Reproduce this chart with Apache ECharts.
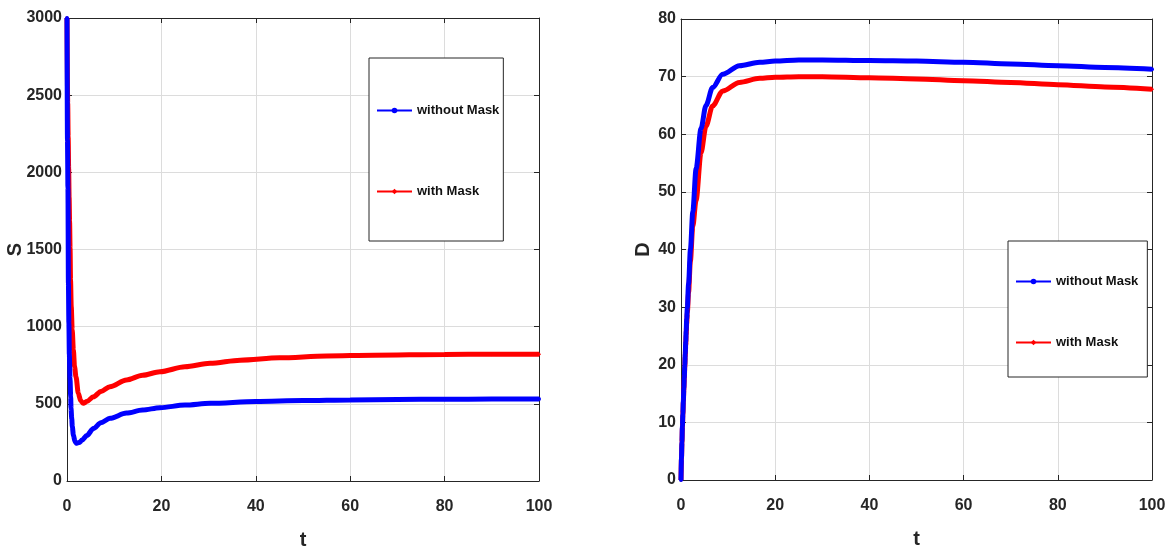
<!DOCTYPE html>
<html lang="en">

<head>
    <meta charset="UTF-8">
    <title>S and D vs t</title>
    <script src="https://cdn.jsdelivr.net/npm/echarts@6/dist/echarts.min.js"></script>
    <style>
        html, body {
            margin: 0;
            padding: 0;
            background-color: #fff;
        }

        #main {
            width: 1166px;
            height: 548px;
        }
    </style>
</head>

<body>
    <div id="main"></div>
</body>

<script>
    // names of the two runs
    let names = ['without Mask', 'with Mask'];

    // left panel: S(t)
    let tSNoMask = [0, 0.1, 0.2, 0.3, 0.4, 0.5, 0.64, 0.78, 0.85, 1.0, 1.13, 1.35, 1.7, 2.05, 2.6, 3.2, 4.2, 5.6, 7.2, 9.1, 12.6, 16, 19.7, 25, 30.3, 40, 50, 60, 70, 80, 90, 100];
    let sNoMask = [3000, 2210, 1900, 1280, 1020, 816, 665, 546, 471, 406, 352, 298, 255, 244, 250, 265, 295, 340, 378, 406, 440, 460, 475, 492, 503, 515, 521, 525, 528, 530, 531, 531];
    let tSMask = [0, 0.15, 0.25, 0.35, 0.45, 0.55, 0.65, 0.75, 0.9, 1.1, 1.35, 1.6, 1.9, 2.4, 2.9, 3.45, 4.2, 5.6, 7.2, 9.1, 12.6, 16, 19.7, 25, 30.3, 36.7, 45, 55, 65, 80, 90, 100];
    let sMask = [3000, 2450, 2230, 2027, 1840, 1680, 1510, 1300, 1130, 980, 849, 740, 676, 568, 520, 503, 515, 546, 580, 611, 655, 685, 708, 740, 763, 783, 798, 810, 815, 820, 822, 822];

    // right panel: D(t)
    let tD = [0, 0.1, 0.2, 0.3, 0.4, 0.5, 0.6, 0.7, 0.8, 0.9, 1.0, 1.1, 1.2, 1.35, 1.6, 2.0, 2.5, 3.2, 4.25, 5.3, 6.7, 8.85, 12.4, 16.7, 20, 25, 30, 40, 50, 60, 70, 80, 90, 100];
    let dNoMask = [0, 3.8, 6.6, 9.4, 11.5, 13.8, 15.9, 17.8, 19.9, 21.9, 23.9, 25.9, 27.9, 30, 34, 40, 46.5, 54, 61, 65, 68.1, 70.4, 71.9, 72.5, 72.7, 72.9, 72.9, 72.8, 72.7, 72.5, 72.2, 71.9, 71.6, 71.3];
    let dMask = [0, 3.6, 6.4, 9.2, 11.3, 13.6, 15.6, 17.5, 19.5, 21.4, 23.3, 25.2, 27.0, 29, 32.5, 38, 44, 48.5, 56.8, 61.4, 64.9, 67.5, 69.0, 69.7, 69.9, 70.0, 70.0, 69.8, 69.6, 69.3, 69.0, 68.6, 68.2, 67.8];

    let xTicks = [0, 20, 40, 60, 80, 100];

    let font = "'Liberation Sans', Arial, sans-serif";
    let ink = '#262626';

    function pairs(ts, vs) {
        let out = [];
        for (let i = 0; i < ts.length && i < vs.length; i++) {
            out.push([ts[i], vs[i]]);
        }
        return out;
    }

    function xAxis(grid, pos) {
        let main = pos === 'bottom';
        return {
            type: 'value',
            gridIndex: grid,
            position: pos,
            min: xTicks[0],
            max: xTicks[xTicks.length - 1],
            interval: 20,
            name: main ? 't' : '',
            nameLocation: 'middle',
            nameGap: 49,
            nameMoveOverlap: false,
            nameTextStyle: { fontFamily: font, fontSize: 20, fontWeight: 'bold', color: ink },
            axisLine: { show: true, onZero: false, lineStyle: { color: ink, width: 1 } },
            axisTick: { show: true, inside: true, length: 5, lineStyle: { color: ink } },
            axisLabel: { show: main, margin: 18, fontFamily: font, fontSize: 16, fontWeight: 'bold', color: ink },
            splitLine: { show: main, lineStyle: { color: '#dcdcdc', width: 1 } }
        };
    }

    function yAxis(grid, pos, max, step, label, gap) {
        let main = pos === 'left';
        return {
            type: 'value',
            gridIndex: grid,
            position: pos,
            min: 0,
            max: max,
            interval: step,
            name: main ? label : '',
            nameLocation: 'middle',
            nameRotate: 90,
            nameGap: gap,
            nameMoveOverlap: false,
            nameTextStyle: { fontFamily: font, fontSize: 20, fontWeight: 'bold', color: ink },
            axisLine: { show: true, onZero: false, lineStyle: { color: ink, width: 1 } },
            axisTick: { show: true, inside: true, length: 5, lineStyle: { color: ink } },
            axisLabel: {
                show: main, margin: 5, fontFamily: font, fontSize: 16, fontWeight: 'bold', color: ink,
                formatter: function (v) { return String(v); }
            },
            splitLine: { show: main, lineStyle: { color: '#dcdcdc', width: 1 } }
        };
    }

    function line(name, grid, data, color, symbol) {
        return {
            type: 'line',
            name: name,
            xAxisIndex: grid * 2,
            yAxisIndex: grid * 2,
            data: data,
            showSymbol: true,
            symbol: symbol,
            symbolSize: 4,
            smooth: 0.3,
            smoothMonotone: 'x',
            itemStyle: { color: color },
            lineStyle: { color: color, width: 5 },
            z: name === names[0] ? 3 : 2
        };
    }

    function legend(left, top, padding, gap) {
        return {
            orient: 'vertical',
            left: left,
            top: top,
            padding: padding,
            itemGap: gap,
            itemWidth: 35,
            itemHeight: 7,
            backgroundColor: '#fff',
            borderColor: ink,
            borderWidth: 1,
            borderRadius: 0,
            data: names,
            lineStyle: { width: 2 },
            textStyle: { fontFamily: font, fontSize: 13, fontWeight: 'bold', color: '#111' }
        };
    }

    let chart = echarts.init(document.getElementById('main'));

    let option = {
        animation: false,
        backgroundColor: '#fff',
        grid: [
            { left: 67, top: 18, width: 472, height: 463, outerBoundsMode: 'none' },
            { left: 681, top: 19, width: 471, height: 461, outerBoundsMode: 'none' }
        ],
        xAxis: [xAxis(0, 'bottom'), xAxis(0, 'top'), xAxis(1, 'bottom'), xAxis(1, 'top')],
        yAxis: [
            yAxis(0, 'left', 3000, 500, 'S', 42),
            yAxis(0, 'right', 3000, 500, '', 0),
            yAxis(1, 'left', 80, 10, 'D', 28),
            yAxis(1, 'right', 80, 10, '', 0)
        ],
        legend: [
            legend(369, 58, [46, 4, 43, 7], 68),
            legend(1008, 241, [34, 9, 28, 7], 48)
        ],
        series: [
            line(names[0], 0, pairs(tSNoMask, sNoMask), '#0000ff', 'circle'),
            line(names[1], 0, pairs(tSMask, sMask), '#ff0000', 'diamond'),
            line(names[0], 1, pairs(tD, dNoMask), '#0000ff', 'circle'),
            line(names[1], 1, pairs(tD, dMask), '#ff0000', 'diamond')
        ]
    };

    chart.setOption(option);
</script>

</html>
